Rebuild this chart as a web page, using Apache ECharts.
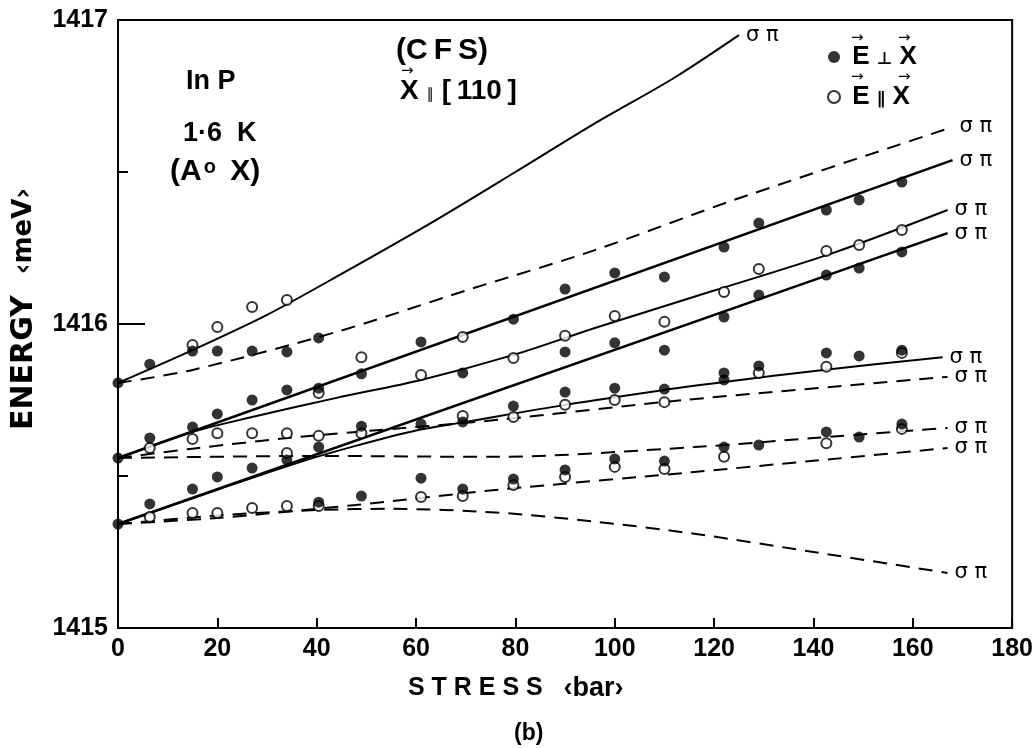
<!DOCTYPE html>
<html>
<head>
<meta charset="utf-8">
<script src="https://cdn.jsdelivr.net/npm/echarts@6/dist/echarts.min.js"></script>
<style>
  html, body { margin: 0; background: #fff; }
  #chart { width: 1036px; height: 748px; }
</style>
</head>
<body>
<div id="chart"></div>
<script>
// axis ranges / ticks
const xRange = [0, 180];
const yRange = [1415, 1417];
const yLabels = [1415, 1416, 1417];

// measured points [stress (bar), energy (meV)]
// filled circles: E perpendicular to X
const perpPoints = [
  [0, 1415.806], [0, 1415.559], [0, 1415.342],
  [6.4, 1415.868], [6.4, 1415.625], [6.4, 1415.408],
  [15, 1415.911], [15, 1415.661], [15, 1415.457],
  [20, 1415.911], [20, 1415.704], [20, 1415.497],
  [27, 1415.911], [27, 1415.75], [27, 1415.526],
  [34, 1415.908], [34, 1415.783], [34, 1415.553],
  [40.4, 1415.954], [40.4, 1415.789], [40.4, 1415.595], [40.4, 1415.414],
  [49, 1415.836], [49, 1415.664], [49, 1415.434],
  [61, 1415.941], [61, 1415.671], [61, 1415.493],
  [69.4, 1415.839], [69.4, 1415.678], [69.4, 1415.457],
  [79.6, 1416.016], [79.6, 1415.73], [79.6, 1415.49],
  [90, 1416.115], [90, 1415.908], [90, 1415.776], [90, 1415.52],
  [100, 1416.168], [100, 1415.938], [100, 1415.789], [100, 1415.556],
  [110, 1416.155], [110, 1415.914], [110, 1415.786], [110, 1415.549],
  [122, 1416.253], [122, 1416.023], [122, 1415.839], [122, 1415.816], [122, 1415.595],
  [129, 1416.332], [129, 1416.095], [129, 1415.862], [129, 1415.602],
  [142.6, 1416.375], [142.6, 1416.161], [142.6, 1415.905], [142.6, 1415.645],
  [149.2, 1416.408], [149.2, 1416.184], [149.2, 1415.895], [149.2, 1415.628],
  [157.8, 1416.467], [157.8, 1416.237], [157.8, 1415.914], [157.8, 1415.671]
];
// open circles: E parallel to X
const parPoints = [
  [6.4, 1415.592], [6.4, 1415.365],
  [15, 1415.931], [15, 1415.622], [15, 1415.378],
  [20, 1415.99], [20, 1415.641], [20, 1415.378],
  [27, 1416.056], [27, 1415.641], [27, 1415.395],
  [34, 1416.079], [34, 1415.641], [34, 1415.576], [34, 1415.401],
  [40.4, 1415.773], [40.4, 1415.632], [40.4, 1415.401],
  [49, 1415.891], [49, 1415.641],
  [61, 1415.832], [61, 1415.431],
  [69.4, 1415.957], [69.4, 1415.697], [69.4, 1415.434],
  [79.6, 1415.888], [79.6, 1415.694], [79.6, 1415.47],
  [90, 1415.961], [90, 1415.734], [90, 1415.497],
  [100, 1416.026], [100, 1415.75], [100, 1415.53],
  [110, 1416.007], [110, 1415.743], [110, 1415.523],
  [122, 1416.105], [122, 1415.563],
  [129, 1416.181], [129, 1415.839],
  [142.6, 1416.24], [142.6, 1415.859], [142.6, 1415.608],
  [149.2, 1416.26],
  [157.8, 1416.309], [157.8, 1415.905], [157.8, 1415.655]
];

// calculated curves
const curveSteep = [[0, 1415.806], [15, 1415.914], [30, 1416.03], [45, 1416.165], [64, 1416.342], [80, 1416.5], [96, 1416.66], [112, 1416.81], [125, 1416.95]];
const curveTopDash = [[0, 1415.806], [15, 1415.849], [44, 1415.974], [70, 1416.11], [96, 1416.243], [124, 1416.408], [168, 1416.648]];
const curveMidA = [[0, 1415.559], [168, 1416.539]];
const curveMidB = [[0, 1415.559], [15, 1415.645], [27, 1415.694], [44, 1415.757], [61, 1415.816], [80, 1415.9], [96, 1415.987], [120, 1416.11], [144, 1416.234], [167, 1416.375]];
const curveMidDashUp = [[0, 1415.559], [15, 1415.59], [36, 1415.628], [48, 1415.645], [76, 1415.684], [114, 1415.75], [167, 1415.826]];
const curveMidDashFlat = [[0, 1415.559], [40, 1415.566], [76, 1415.563], [116, 1415.595], [140, 1415.625], [167, 1415.658]];
const curveLowA = [[0, 1415.342], [167, 1416.299]];
const curveLowB = [[0, 1415.342], [20, 1415.455], [36, 1415.543], [48, 1415.6], [60, 1415.65], [70, 1415.678], [90, 1415.734], [110, 1415.783], [122, 1415.809], [142, 1415.849], [166, 1415.891]];
const curveLowDashUp = [[0, 1415.342], [20, 1415.362], [48, 1415.405], [76, 1415.454], [116, 1415.513], [140, 1415.55], [167, 1415.592]];
const curveLowDashDown = [[0, 1415.342], [20, 1415.37], [40, 1415.388], [55, 1415.392], [76, 1415.38], [96, 1415.35], [116, 1415.31], [140, 1415.25], [167, 1415.181]];

const boldFont = '"Liberation Sans", Arial, sans-serif';
const wideFont = '"DejaVu Sans", sans-serif';

function curve (data, dashed, width) {
  return {
    type: 'line',
    data: data,
    smooth: data.length > 2 ? 0.3 : false,
    showSymbol: false,
    silent: true,
    z: 2,
    lineStyle: { color: '#000', width: width, type: dashed ? [14, 9] : 'solid' },
    endLabel: {
      show: true,
      formatter: 'σ π',
      color: '#000',
      fontSize: 21,
      fontFamily: wideFont,
      distance: 7
    }
  }
}

// small arrow drawn over a letter (vector notation)
function arrow (left, top) {
  return { type: 'text', left: left, top: top, z: 10, style: { text: '→', fontSize: 15, fontFamily: wideFont, fill: '#000' } }
}

const chart = echarts.init(document.getElementById('chart'));
chart.setOption({
  backgroundColor: '#fff',
  animation: false,
  grid: { left: 118, right: 18, top: 20, bottom: 120, show: true, borderColor: '#000', borderWidth: 2 },
  xAxis: {
    type: 'value',
    min: xRange[0],
    max: xRange[1],
    interval: 20,
    axisLine: { lineStyle: { color: '#000', width: 2 } },
    axisTick: { inside: true, length: 10, lineStyle: { color: '#000', width: 2 } },
    splitLine: { show: false },
    axisLabel: { color: '#000', fontSize: 25, fontWeight: 'bold', fontFamily: boldFont, margin: 9 }
  },
  yAxis: [
    {
      type: 'value',
      min: yRange[0],
      max: yRange[1],
      interval: 0.5,
      axisLine: { lineStyle: { color: '#000', width: 2 } },
      axisTick: { inside: true, length: 10, lineStyle: { color: '#000', width: 2 } },
      splitLine: { show: false },
      axisLabel: {
        color: '#000', fontSize: 25, fontWeight: 'bold', fontFamily: boldFont, margin: 10,
        formatter: v => yLabels.indexOf(v) >= 0 ? String(v) : ''
      }
    },
    {
      type: 'value',
      position: 'left',
      min: yRange[0],
      max: yRange[1],
      interval: 1,
      axisLine: { show: false },
      axisTick: { inside: true, length: 27, lineStyle: { color: '#000', width: 2 } },
      splitLine: { show: false },
      axisLabel: { show: false }
    }
  ],
  legend: {
    orient: 'vertical',
    left: 827,
    top: 44,
    padding: 0,
    itemGap: 14,
    itemWidth: 12,
    itemHeight: 12,
    icon: 'circle',
    selectedMode: false,
    formatter: name => name === 'perp' ? ' E {s|⊥} X' : ' E {s|∥} X',
    textStyle: {
      color: '#000', fontSize: 26, fontWeight: 'bold', fontFamily: boldFont,
      rich: { s: { fontSize: 17, fontFamily: wideFont, color: '#000', padding: [6, 0, 0, 0] } }
    },
    data: ['perp', 'par']
  },
  series: [
    curve(curveSteep, false, 2),
    curve(curveTopDash, true, 2),
    curve(curveMidA, false, 2.6),
    curve(curveMidB, false, 2),
    curve(curveMidDashUp, true, 2),
    curve(curveMidDashFlat, true, 2),
    curve(curveLowA, false, 2.6),
    curve(curveLowB, false, 2),
    curve(curveLowDashUp, true, 2),
    curve(curveLowDashDown, true, 2),
    {
      name: 'perp',
      type: 'scatter',
      data: perpPoints,
      symbol: 'circle',
      symbolSize: 11,
      z: 4,
      itemStyle: { color: '#000' }
    },
    {
      name: 'par',
      type: 'scatter',
      data: parPoints,
      symbol: 'circle',
      symbolSize: 10,
      z: 3,
      itemStyle: { color: '#fff', borderColor: '#000', borderWidth: 2 }
    }
  ],
  graphic: [
    { type: 'text', left: 186, top: 68, style: { text: 'In P', fontSize: 27, fontWeight: 'bold', fontFamily: boldFont, fill: '#000' } },
    { type: 'text', left: 183, top: 120, style: { text: '1·6  K', fontSize: 27, fontWeight: 'bold', fontFamily: boldFont, fill: '#000' } },
    {
      type: 'text', left: 170, top: 157,
      style: {
        text: '(A{s|o} X)',
        fontSize: 30, fontWeight: 'bold', fontFamily: boldFont, fill: '#000',
        rich: { s: { fontSize: 20, fontWeight: 'bold', fontFamily: boldFont, verticalAlign: 'top', padding: [0, 6, 8, 2] } }
      }
    },
    { type: 'text', left: 396, top: 36, style: { text: '(C\u2009F\u2009S)', fontSize: 30, fontWeight: 'bold', fontFamily: boldFont, fill: '#000' } },
    {
      type: 'text', left: 400, top: 77,
      style: {
        text: 'X {s|∥} [\u2009110\u2009]', fontSize: 28, fontWeight: 'bold', fontFamily: boldFont, fill: '#000',
        rich: { s: { fontSize: 15, fontFamily: wideFont, padding: [8, 0, 0, 0] } }
      }
    },
    arrow(401, 64),
    arrow(851, 31), arrow(898, 31),
    arrow(851, 70), arrow(898, 70),
    {
      type: 'text', left: 9, top: 188, rotation: Math.PI / 2,
      style: { text: 'ENERGY  {s|‹meV›}', fontSize: 30, fontWeight: 'bold', fontFamily: wideFont, fill: '#000',
        rich: { s: { fontSize: 26, fontWeight: 'bold', fontFamily: wideFont } } }
    },
    {
      type: 'text', left: 408, top: 675,
      style: { text: 'S T R E S S   {s|‹bar›}', fontSize: 25, fontWeight: 'bold', fontFamily: boldFont, fill: '#000',
        rich: { s: { fontSize: 27, fontWeight: 'bold', fontFamily: boldFont } } }
    },
    { type: 'text', left: 514, top: 722, style: { text: '(b)', fontSize: 23, fontWeight: 'bold', fontFamily: boldFont, fill: '#000' } }
  ]
});
</script>
</body>
</html>
